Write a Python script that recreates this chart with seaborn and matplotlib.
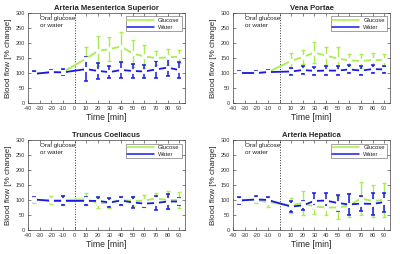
import matplotlib
matplotlib.use('Agg')
import matplotlib.pyplot as plt
import seaborn as sns
import pandas as pd
import numpy as np

time = [-35, -20, -10, 10, 20, 30, 40, 50, 60, 70, 80, 90]

titles = ['Arteria Mesenterica Superior', 'Vena Portae', 'Truncus Coeliacus', 'Arteria Hepatica']

glucose_mean = [
    [97, 103, 103, 148, 173, 180, 188, 165, 155, 150, 152, 155],
    [100, 100, 103, 140, 153, 168, 158, 148, 142, 140, 143, 143],
    [100, 100, 100, 103, 90, 90, 100, 97, 98, 105, 100, 100],
    [100, 100, 93, 82, 90, 78, 75, 75, 82, 105, 97, 100],
]
glucose_sd = [
    [8, 7, 8, 38, 50, 40, 50, 45, 37, 22, 27, 23],
    [7, 5, 8, 25, 22, 35, 30, 38, 20, 22, 25, 20],
    [10, 12, 18, 20, 18, 17, 15, 17, 20, 17, 30, 28],
    [10, 10, 15, 25, 40, 25, 25, 37, 40, 55, 52, 58],
]
water_mean = [
    [97, 103, 102, 113, 107, 103, 110, 107, 105, 112, 118, 110],
    [100, 100, 103, 105, 110, 107, 108, 108, 112, 108, 113, 112],
    [102, 97, 97, 97, 97, 92, 98, 92, 88, 90, 95, 95],
    [98, 102, 100, 78, 82, 97, 98, 90, 85, 88, 87, 93],
]
water_sd = [
    [8, 7, 10, 40, 27, 20, 27, 23, 22, 28, 28, 25],
    [7, 5, 8, 12, 12, 13, 15, 15, 13, 15, 13, 12],
    [7, 7, 15, 12, 12, 15, 13, 17, 12, 23, 25, 13],
    [12, 10, 10, 18, 15, 28, 27, 28, 35, 25, 38, 32],
]

green = '#a8ee50'
blue = '#1a1ae8'

sns.set_style('white')
plt.rcParams['font.family'] = ['Liberation Sans', 'DejaVu Sans']
plt.rcParams['axes.unicode_minus'] = False

fig = plt.figure(figsize=(4, 2.54), dpi=100)
lefts = [28, 233, 28, 233]
tops = [13, 13, 140, 140]
W, H = 157, 90

for i in range(4):
    ax = fig.add_axes([lefts[i] / 400, 1 - (tops[i] + H) / 254, W / 400, H / 254])
    df = pd.DataFrame({
        'time': time * 2,
        'flow': glucose_mean[i] + water_mean[i],
        'sd': glucose_sd[i] + water_sd[i],
        'group': ['Glucose'] * len(time) + ['Water'] * len(time),
    })
    for grp, color, lw in [('Glucose', green, 1.0), ('Water', blue, 1.1)]:
        d = df[df.group == grp]
        ax.errorbar(d.time, d.flow, yerr=d.sd, fmt='none', ecolor=color,
                    elinewidth=lw, capsize=1.4, capthick=lw, zorder=2)
    sns.lineplot(data=df, x='time', y='flow', hue='group', palette=[green, blue],
                 marker='s', markersize=2.6, markerfacecolor='white', markeredgewidth=0.6,
                 linewidth=1.3, ax=ax, zorder=3)
    for line, lw in zip(ax.get_lines()[-2:], [1.3, 1.4]):
        line.set_linewidth(lw)
        line.set_markeredgecolor(line.get_color())
    ax.axvline(0, color='#333333', linestyle=':', linewidth=0.7)
    ax.text(-30, 290, 'Oral glucose\nor water', fontsize=4.6, va='top', ha='left',
            color='#222222', linespacing=1.5)
    ax.set_xlim(-40, 95)
    ax.set_ylim(0, 300)
    ax.set_xticks(range(-40, 100, 10))
    ax.set_yticks(range(0, 301, 50))
    ax.tick_params(direction='in', length=2, width=0.4, labelsize=4.0,
                   labelcolor='#333333', pad=2, top=True, right=True,
                   bottom=True, left=True, labeltop=False, labelright=False)
    for s in ax.spines.values():
        s.set_linewidth(0.5)
        s.set_color('#444444')
    ax.set_title(titles[i], fontsize=5.5, fontweight='bold', pad=2.5)
    ax.set_xlabel('Time [min]', fontsize=6.2, labelpad=1.5)
    ax.set_ylabel('Blood flow [% change]', fontsize=5.8, labelpad=2.5)
    leg = ax.legend(loc='upper right', fontsize=4.2, frameon=True, fancybox=False,
                    edgecolor='#333333', handlelength=4.5, borderpad=0.3,
                    labelspacing=0.2, handletextpad=0.8, borderaxespad=0.6)
    leg.get_frame().set_linewidth(0.4)
    for h in leg.get_lines():
        h.set_marker('')
        h.set_linewidth(1.1)

fig.savefig('out.png', dpi=100)
